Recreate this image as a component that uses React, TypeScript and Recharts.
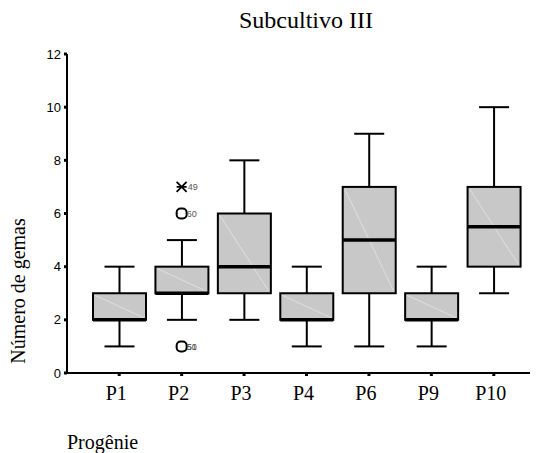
import React from 'react';
import { ComposedChart, Bar, Scatter, XAxis, YAxis } from 'recharts';

const categories = ['P1', 'P2', 'P3', 'P4', 'P6', 'P9', 'P10'];
const mins = [1, 2, 2, 1, 1, 1, 3];
const q1s = [2, 3, 3, 2, 3, 2, 4];
const medians = [2, 3, 4, 2, 5, 2, 5.5];
const q3s = [3, 4, 6, 3, 7, 3, 7];
const maxs = [4, 5, 8, 4, 9, 4, 10];
const yTicks = [0, 2, 4, 6, 8, 10, 12];

// outliers (P2)
const circleHigh = [null, 6, null, null, null, null, null];
const circleHighLabel = ['', '60', '', '', '', '', ''];
const circleLow = [null, 1, null, null, null, null, null];
const circleLowLabel = ['', '50|51', '', '', '', '', ''];
const starOut = [null, 7, null, null, null, null, null];
const starLabel = ['', '49', '', '', '', '', ''];

const data = categories.map((c, i) => ({
  cat: c,
  range: [mins[i], maxs[i]],
  min: mins[i],
  q1: q1s[i],
  median: medians[i],
  q3: q3s[i],
  max: maxs[i],
  cHigh: circleHigh[i],
  cHighLabel: circleHighLabel[i],
  cLow: circleLow[i],
  cLowLabel: circleLowLabel[i],
  star: starOut[i],
  starLabel: starLabel[i],
}));

const BoxShape = (props: any) => {
  const { x, y, width, height, payload } = props;
  if (x == null || payload == null) return null;
  const top = Math.min(y, y + height);
  const h = Math.abs(height);
  const span = payload.max - payload.min;
  const py = (v: number) => top + ((payload.max - v) / span) * h;
  const cx = x + width / 2;
  const capW = 30;
  const yMax = py(payload.max);
  const yMin = py(payload.min);
  const yQ3 = py(payload.q3);
  const yQ1 = py(payload.q1);
  const yMed = py(payload.median);
  return (
    <g>
      <line x1={cx} x2={cx} y1={yMax} y2={yQ3} stroke="#000" strokeWidth={2} />
      <line x1={cx} x2={cx} y1={yQ1} y2={yMin} stroke="#000" strokeWidth={2} />
      <line x1={cx - capW / 2} x2={cx + capW / 2} y1={yMax} y2={yMax} stroke="#000" strokeWidth={2} />
      <line x1={cx - capW / 2} x2={cx + capW / 2} y1={yMin} y2={yMin} stroke="#000" strokeWidth={2} />
      <rect x={x} y={yQ3} width={width} height={yQ1 - yQ3} fill="#c8c8c8" stroke="none" />
      <line x1={x + 2} y1={yQ3 + 2} x2={x + width - 2} y2={yQ1 - 2} stroke="#e4e4e4" strokeWidth={0.8} />
      <rect x={x} y={yQ3} width={width} height={yQ1 - yQ3} fill="none" stroke="#000" strokeWidth={2} />
      <line x1={x} x2={x + width} y1={yMed} y2={yMed} stroke="#000" strokeWidth={3.5} />
    </g>
  );
};

const CircleShape = (labelKey: string) => (props: any) => {
  const { cx, cy, payload } = props;
  if (cx == null || cy == null || !payload || !payload[labelKey]) return <g />;
  const labels = String(payload[labelKey]).split('|');
  return (
    <g>
      <rect x={cx - 5} y={cy - 5} width={10} height={10} rx={4} fill="#fff" stroke="#000" strokeWidth={2} />
      {labels.map((l, i) => (
        <text key={i} x={cx + 5} y={cy + 3.5} fontSize={9} fontFamily="Liberation Sans, Arial, sans-serif" fill="#555">
          {l}
        </text>
      ))}
    </g>
  );
};

const StarShape = (props: any) => {
  const { cx, cy, payload } = props;
  if (cx == null || cy == null || !payload || !payload.starLabel) return <g />;
  const r = 5;
  return (
    <g>
      <line x1={cx - r} x2={cx + r} y1={cy} y2={cy} stroke="#000" strokeWidth={1.8} />
      <line x1={cx - r} x2={cx + r} y1={cy - r} y2={cy + r} stroke="#000" strokeWidth={1.8} />
      <line x1={cx - r} x2={cx + r} y1={cy + r} y2={cy - r} stroke="#000" strokeWidth={1.8} />
      <text x={cx + 6} y={cy + 3.5} fontSize={9} fontFamily="Liberation Sans, Arial, sans-serif" fill="#555">
        {payload.starLabel}
      </text>
    </g>
  );
};

export default function App() {
  return (
    <div style={{ position: 'absolute', left: 0, top: 0, width: 536, height: 453, background: '#fff' }}>
      <ComposedChart
        width={536}
        height={453}
        data={data}
        margin={{ top: 54, right: 6, bottom: 50, left: 0 }}
      >
        <XAxis
          dataKey="cat"
          type="category"
          padding={{ left: 21, right: 5 }}
          axisLine={{ stroke: '#000', strokeWidth: 2 }}
          tickLine={{ stroke: '#000', strokeWidth: 3 }}
          tickSize={3}
          tickMargin={10}
          height={30}
          tick={{ fill: '#000', fontSize: 20, dx: -3, fontFamily: 'Liberation Serif, Times New Roman, serif' }}
          interval={0}
        />
        <YAxis
          type="number"
          domain={[0, 12]}
          ticks={yTicks}
          width={67}
          axisLine={{ stroke: '#000', strokeWidth: 2 }}
          tickLine={{ stroke: '#000', strokeWidth: 3 }}
          tickSize={3}
          tickMargin={3}
          tick={{ fill: '#000', fontSize: 13, fontFamily: 'Liberation Sans, Arial, sans-serif' }}
          allowDataOverflow
        />
        <Bar dataKey="range" barSize={53} shape={BoxShape} isAnimationActive={false} />
        <Scatter dataKey="cHigh" shape={CircleShape('cHighLabel')} isAnimationActive={false} />
        <Scatter dataKey="cLow" shape={CircleShape('cLowLabel')} isAnimationActive={false} />
        <Scatter dataKey="star" shape={StarShape} isAnimationActive={false} />
      </ComposedChart>
      <svg width={536} height={453} style={{ position: 'absolute', left: 0, top: 0, pointerEvents: 'none' }}>
        <text x={306} y={28} textAnchor="middle" fontSize={24} fontFamily="Liberation Serif, Times New Roman, serif" fill="#000">
          Subcultivo III
        </text>
        <text
          x={0}
          y={0}
          transform="translate(25,291) rotate(-90)"
          textAnchor="middle"
          fontSize={20}
          fontFamily="Liberation Serif, Times New Roman, serif"
          fill="#000"
        >
          Número de gemas
        </text>
        <text x={67} y={449} fontSize={20} fontFamily="Liberation Serif, Times New Roman, serif" fill="#000">
          Progênie
        </text>
      </svg>
    </div>
  );
}
